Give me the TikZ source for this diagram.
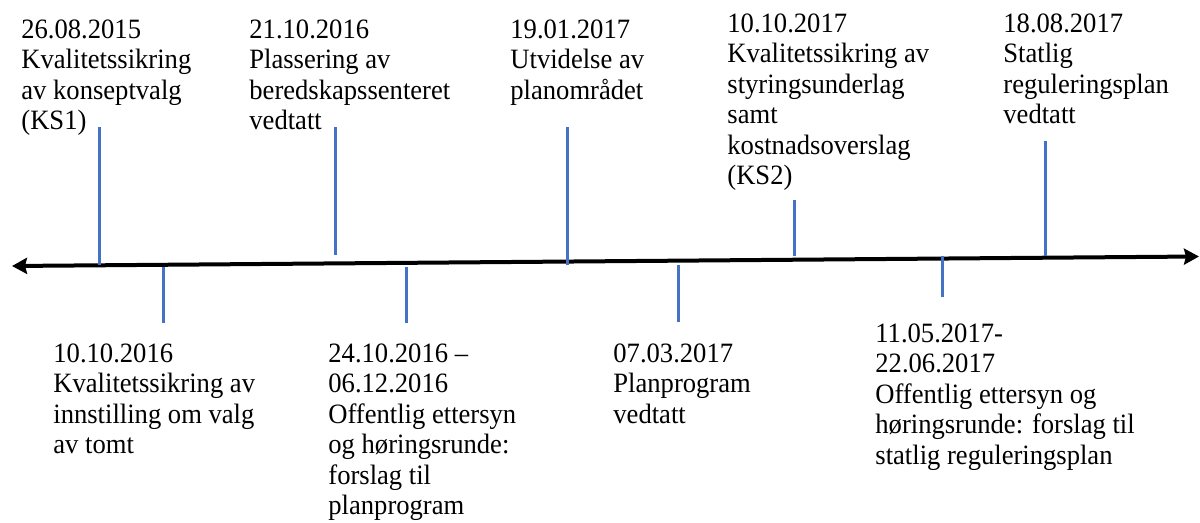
\documentclass[tikz,border=0pt]{standalone}
\usepackage{fontspec}
\setmainfont{Liberation Serif}[FakeStretch=0.95]
\usetikzlibrary{arrows.meta}
\definecolor{tickblue}{HTML}{4472C4}
\begin{document}
\begin{tikzpicture}[x=0.5pt, y=-0.5pt,
    event/.style = {anchor=north west, inner sep=0pt, align=left,
      font=\fontsize{14pt}{15.25pt}\selectfont},
    tick/.style = {draw=tickblue, line width=1.5pt},
    axis/.style = {line width=2pt,
      {Stealth[length=7.5pt,width=8pt,inset=1pt]}-{Stealth[length=7.5pt,width=8pt,inset=1pt]}}]
    \useasboundingbox (0,0) rectangle (1200,523);
    % time axis
    \coordinate (start) at (12,266);
    \coordinate (end) at (1199,256.5);
    \draw[axis] (start) -- (end);
    % ticks
    \foreach \n/\x/\a/\b in {1/99.3/127/265, 2/163.3/267/323, 3/335.7/127/255,
        4/406.7/267/323, 5/567.7/127/265, 6/678.7/265/322,
        7/794.3/200/256, 8/942.3/256/297, 9/1045/141/256} {
      \coordinate (t\n a) at (\x,\a);
      \coordinate (t\n b) at (\x,\b);
      \draw[tick] (t\n a) -- (t\n b);
    }
    % events above the axis
    \node[event] (ks1) at (21,19) {26.08.2015\\Kvalitetssikring\\av konseptvalg\\(KS1)};
    \node[event] (plassering) at (249,19) {21.10.2016\\Plassering av\\beredskapssenteret\\vedtatt};
    \node[event] (utvidelse) at (510,19) {19.01.2017\\Utvidelse av\\planområdet};
    \node[event] (ks2) at (727,13) {10.10.2017\\Kvalitetssikring av\\styringsunderlag\\samt\\kostnadsoverslag\\(KS2)};
    \node[event] (regplan) at (1003,13) {18.08.2017\\Statlig\\reguleringsplan\\vedtatt};
    % events below the axis
    \node[event] (tomt) at (53,343) {10.10.2016\\Kvalitetssikring av\\innstilling om valg\\av tomt};
    \node[event] (horing1) at (328,343) {24.10.2016 –\\06.12.2016\\Offentlig ettersyn\\og høringsrunde:\\forslag til\\planprogram};
    \node[event] (planprogram) at (613,343) {07.03.2017\\Planprogram\\vedtatt};
    \node[event] (horing2) at (875,323) {11.05.2017-\\22.06.2017\\Offentlig ettersyn og\\høringsrunde: forslag til\\statlig reguleringsplan};
\end{tikzpicture}
\end{document}
